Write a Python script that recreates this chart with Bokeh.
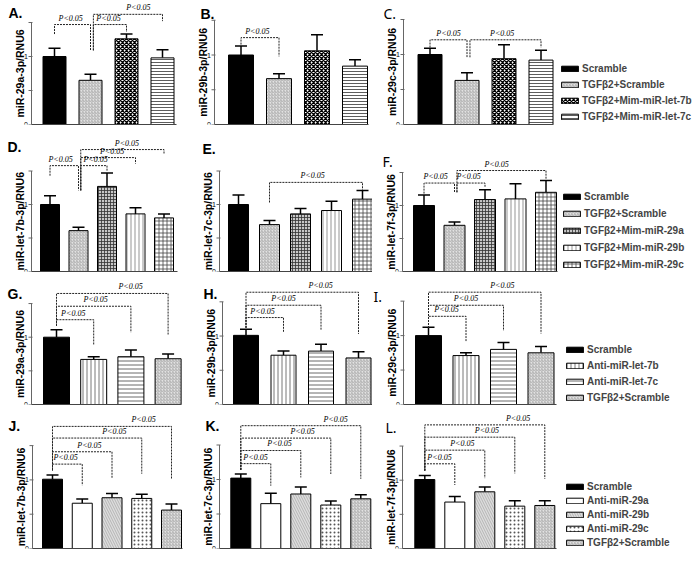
import math
from bokeh.plotting import figure
from bokeh.models import (FixedTicker, Whisker, TeeHead, ColumnDataSource,
                          Legend, LegendItem, Range1d)
from bokeh.layouts import row, column
from bokeh.core.properties import value
from bokeh.embed import file_html
from bokeh.resources import INLINE

# ---------------- data ----------------
groups_ABC = ["Scramble", "TGFβ2+Scramble", "TGFβ2+Mim-miR-let-7b", "TGFβ2+Mim-miR-let-7c"]
groups_DEF = ["Scramble", "TGFβ2+Scramble", "TGFβ2+Mim-miR-29a", "TGFβ2+Mim-miR-29b", "TGFβ2+Mim-miR-29c"]
groups_GHI = ["Scramble", "Anti-miR-let-7b", "Anti-miR-let-7c", "TGFβ2+Scramble"]
groups_JKL = ["Scramble", "Anti-miR-29a", "Anti-miR-29b", "Anti-miR-29c", "TGFβ2+Scramble"]

ylabels = ["miR-29a-3p/RNU6", "miR-29b-3p/RNU6", "miR-29c-3p/RNU6",
           "miR-let-7b-3p/RNU6", "miR-let-7c-3p/RNU6", "miR-let-7f-3p/RNU6",
           "miR-29a-3p/RNU6", "miR-29b-3p/RNU6", "miR-29c-3p/RNU6",
           "miR-let-7b-3p/RNU6", "miR-let-7c-3p/RNU6", "miR-let-7f-3p/RNU6"]
letters = ["A.", "B.", "C.", "D.", "E.", "F.", "G.", "H.", "I.", "J.", "K.", "L."]

y_major = [0, 1]
y_major_text = ["0", "1"]
y_minor = [0.5, 1.5]
p_text = "P<0.05"

vals_A = [1.00, 0.65, 1.26, 0.98]; sem_A = [0.12, 0.09, 0.07, 0.12]
vals_B = [1.00, 0.66, 1.06, 0.84]; sem_B = [0.13, 0.07, 0.23, 0.09]
vals_C = [1.00, 0.63, 0.94, 0.92]; sem_C = [0.09, 0.11, 0.20, 0.14]
vals_D = [1.00, 0.61, 1.27, 0.86, 0.80]; sem_D = [0.13, 0.05, 0.20, 0.09, 0.06]
vals_E = [1.00, 0.70, 0.86, 0.91, 1.08]; sem_E = [0.14, 0.06, 0.08, 0.14, 0.13]
vals_F = [1.00, 0.70, 1.09, 1.10, 1.20]; sem_F = [0.16, 0.05, 0.15, 0.23, 0.18]
vals_G = [1.00, 0.67, 0.71, 0.68]; sem_G = [0.11, 0.04, 0.10, 0.07]
vals_H = [1.01, 0.72, 0.78, 0.68]; sem_H = [0.09, 0.06, 0.10, 0.09]
vals_I = [1.00, 0.71, 0.80, 0.75]; sem_I = [0.12, 0.04, 0.10, 0.09]
vals_J = [1.01, 0.66, 0.74, 0.73, 0.56]; sem_J = [0.06, 0.06, 0.06, 0.06, 0.09]
vals_K = [1.02, 0.65, 0.79, 0.63, 0.72]; sem_K = [0.06, 0.15, 0.10, 0.06, 0.06]
vals_L = [1.01, 0.68, 0.83, 0.62, 0.63]; sem_L = [0.06, 0.08, 0.07, 0.08, 0.07]

# significance brackets: from bar, to bar, bracket height, leg ends, label x
brk_A_from = [1, 2, 2]; brk_A_to = [2, 3, 4]; brk_A_y = [1.47, 1.47, 1.62]
brk_A_lo1 = [1.33, 1.09, 1.09]; brk_A_lo2 = [1.09, 1.36, 1.52]; brk_A_lx = [1.45, 2.50, 3.33]
brk_B_from = [1]; brk_B_to = [2]; brk_B_y = [1.25]
brk_B_lo1 = [1.15]; brk_B_lo2 = [0.98]; brk_B_lx = [1.43]
brk_C_from = [1, 2]; brk_C_to = [2, 4]; brk_C_y = [1.21, 1.21]
brk_C_lo1 = [1.10, 0.96]; brk_C_lo2 = [0.96, 1.10]; brk_C_lx = [1.50, 2.95]
brk_D_from = [1, 2, 2, 2]; brk_D_to = [2, 3, 4, 5]; brk_D_y = [1.58, 1.58, 1.70, 1.82]
brk_D_lo1 = [1.43, 1.21, 1.21, 1.21]; brk_D_lo2 = [1.21, 1.50, 1.61, 1.76]; brk_D_lx = [1.37, 2.60, 3.18, 3.70]
brk_E_from = [2]; brk_E_to = [5]; brk_E_y = [1.33]
brk_E_lo1 = [1.03]; brk_E_lo2 = [1.22]; brk_E_lx = [3.39]
brk_F_from = [1, 2, 2]; brk_F_to = [2, 3, 5]; brk_F_y = [1.34, 1.34, 1.53]
brk_F_lo1 = [1.18, 1.20, 1.20]; brk_F_lo2 = [1.20, 1.28, 1.40]; brk_F_lx = [1.38, 2.46, 3.38]
brk_G_from = [1, 1, 1]; brk_G_to = [2, 3, 4]; brk_G_y = [1.26, 1.46, 1.65]
brk_G_lo1 = [1.17, 1.17, 1.17]; brk_G_lo2 = [0.88, 1.07, 1.04]; brk_G_lx = [1.45, 2.05, 2.99]
brk_H_from = [1, 1, 1]; brk_H_to = [2, 3, 4]; brk_H_y = [1.27, 1.45, 1.64]
brk_H_lo1 = [1.12, 1.12, 1.12]; brk_H_lo2 = [1.05, 1.09, 1.03]; brk_H_lx = [1.44, 2.00, 2.99]
brk_I_from = [1, 1, 1]; brk_I_to = [2, 3, 4]; brk_I_y = [1.28, 1.44, 1.63]
brk_I_lo1 = [1.11, 1.11, 1.11]; brk_I_lo2 = [0.92, 1.07, 1.03]; brk_I_lx = [1.48, 2.00, 2.97]
brk_J_from = [1, 1, 1, 1]; brk_J_to = [2, 3, 4, 5]; brk_J_y = [1.23, 1.41, 1.61, 1.78]
brk_J_lo1 = [1.14, 1.14, 1.14, 1.14]; brk_J_lo2 = [0.92, 1.02, 1.09, 1.02]; brk_J_lx = [1.44, 2.24, 3.08, 4.06]
brk_K_from = [1, 1, 1, 1]; brk_K_to = [2, 3, 4, 5]; brk_K_y = [1.23, 1.42, 1.60, 1.78]
brk_K_lo1 = [1.14, 1.14, 1.14, 1.14]; brk_K_lo2 = [0.91, 1.03, 1.08, 1.01]; brk_K_lx = [1.49, 2.29, 3.06, 4.16]
brk_L_from = [1, 1, 1, 1]; brk_L_to = [2, 3, 4, 5]; brk_L_y = [1.24, 1.44, 1.63, 1.81]
brk_L_lo1 = [1.14, 1.14, 1.14, 1.14]; brk_L_lo2 = [0.93, 1.03, 1.10, 1.02]; brk_L_lx = [1.49, 2.25, 3.07, 4.11]

# ---------------- styles ----------------
STYLES = {
    "Scramble": dict(fill_color="black"),
    "TGFβ2+Scramble": dict(fill_color="#e2e2e2", hatch_pattern="right_diagonal_line",
                           hatch_color="#8c8c8c", hatch_scale=3, hatch_weight=0.6),
    "TGFβ2+Mim-miR-let-7b": dict(fill_color="white", hatch_pattern="diagonal_cross",
                                 hatch_color="black", hatch_scale=4, hatch_weight=1.3),
    "TGFβ2+Mim-miR-let-7c": dict(fill_color="white", hatch_pattern="horizontal_line",
                                 hatch_color="#333333", hatch_scale=3, hatch_weight=0.8),
    "TGFβ2+Mim-miR-29a": dict(fill_color="#c8c8c8", hatch_pattern="cross",
                              hatch_color="#333333", hatch_scale=3, hatch_weight=0.8),
    "TGFβ2+Mim-miR-29b": dict(fill_color="white", hatch_pattern="vertical_line",
                              hatch_color="#666666", hatch_scale=4, hatch_weight=0.7),
    "TGFβ2+Mim-miR-29c": dict(fill_color="white", hatch_pattern="cross",
                              hatch_color="#444444", hatch_scale=4, hatch_weight=0.8),
    "Anti-miR-let-7b": dict(fill_color="white", hatch_pattern="vertical_line",
                            hatch_color="#555555", hatch_scale=4, hatch_weight=0.8),
    "Anti-miR-let-7c": dict(fill_color="white", hatch_pattern="horizontal_line",
                            hatch_color="#444444", hatch_scale=4, hatch_weight=0.8),
    "Anti-miR-29a": dict(fill_color="white"),
    "Anti-miR-29b": dict(fill_color="#dddddd", hatch_pattern="left_diagonal_line",
                         hatch_color="#999999", hatch_scale=5, hatch_weight=0.6),
    "Anti-miR-29c": dict(fill_color="white", hatch_pattern="dot",
                         hatch_color="#555555", hatch_scale=4, hatch_weight=1.0),
}

FONT = "Liberation Sans"
AXIS_COLOR = "#666666"

# ---------------- layout (page pixels) ----------------
ROWS = [(0, 134), (134, 278), (278, 414), (414, 560)]
# fig_x0, fig_x1, axis_x, axis_end, first bar centre, bar spacing, bar width,
# zero y, px per unit, letter x, letter y, letter font, letter weight
GEO = {
    "A": (0, 183, 31, 176, 54, 36, 23, 124, 68, 8, 4, FONT, "bold"),
    "B": (183, 372, 214, 368, 240.5, 38, 25, 124, 69.5, 200, 5, FONT, "bold"),
    "C": (372, 700, 403, 553, 429.5, 37, 24, 124, 70, 383, 3, "Noto Sans", "normal"),
    "D": (0, 188, 31, 177, 49.5, 28.5, 19, 271, 67, 7, 138, FONT, "bold"),
    "E": (188, 372, 219, 372, 238, 31, 20, 271, 67, 202, 140, FONT, "bold"),
    "F": (372, 700, 402, 557, 423.5, 30.5, 21, 271, 66, 382, 151, "Noto Sans", "normal"),
    "G": (0, 191, 31, 181, 56, 37.2, 26, 404, 67.3, 7, 285, FONT, "bold"),
    "H": (191, 372, 222, 372, 245.5, 37.5, 25, 405, 69, 203, 286, FONT, "bold"),
    "I": (372, 700, 403, 556, 428, 37.5, 26, 406, 70, 373, 287, "Noto Sans", "normal"),
    "J": (0, 188, 32, 182, 52, 29.75, 20, 548, 68.6, 8, 417, FONT, "bold"),
    "K": (188, 372, 219, 372, 240.3, 30, 20, 548, 69, 205, 417, FONT, "bold"),
    "L": (372, 700, 402, 556, 424.3, 30, 20, 548, 68.3, 385, 417, "Noto Sans", "normal"),
}
LEGEND_GEO = {"C": (559, 122, 4), "F": (561, 270, 5), "I": (564, 405, 4), "L": (564, 550, 2)}
YLABEL_GAP = 6   # px from y-axis line to the bottom edge of its rotated title
TICKLABEL_GAP = 3.5


def make_panel(key, idx, row_i, groups, vals, sems, bf, bt, by, blo1, blo2, blx, legend=False):
    x0, x1, ax, ae, c1, s, bw, zero, unit, lx, ly, lfont, lstyle = GEO[key]
    top, bottom = ROWS[row_i]
    px2x = lambda px: 1 + (px - c1) / s
    px2y = lambda py: (zero - py) / unit
    p = figure(width=int(x1 - x0), height=int(bottom - top), output_backend="svg",
               toolbar_location=None, tools="",
               x_range=Range1d(px2x(x0), px2x(x1)),
               y_range=Range1d(0, px2y(top)),
               min_border_left=0, min_border_right=0,
               min_border_top=0, min_border_bottom=int(bottom - zero))
    p.outline_line_color = None
    p.xgrid.visible = False
    p.ygrid.visible = False
    p.background_fill_color = "white"
    p.border_fill_color = "white"
    p.yaxis.visible = False

    # x axis: plain baseline under the bars
    p.xaxis.ticker = FixedTicker(ticks=[])
    p.xaxis.major_label_text_font_size = "0px"
    p.xaxis.major_label_standoff = 0
    p.xaxis.major_tick_out = 0
    p.xaxis.minor_tick_out = 0
    p.xaxis.bounds = (px2x(ax), px2x(ae))
    p.xaxis.axis_line_color = "#444444"

    # y axis: line, ticks and labels at the value scale
    axx = px2x(ax)
    all_ticks = y_major + y_minor
    p.segment(x0=[axx], y0=[min(all_ticks)], x1=[axx], y1=[max(all_ticks)],
              line_color=AXIS_COLOR, line_width=1)
    p.segment(x0=[axx - 3 / s] * len(all_ticks), y0=all_ticks,
              x1=[axx + 1 / s] * len(all_ticks), y1=all_ticks,
              line_color=AXIS_COLOR, line_width=1)
    p.text(x=[axx - TICKLABEL_GAP / s] * len(y_major), y=y_major, text=y_major_text,
           text_font=value(FONT), text_font_size="7px", text_align="right",
           text_baseline="middle", text_color="black")

    # rotated y title
    p.text(x=[px2x(ax - YLABEL_GAP)], y=[0.75], text=[ylabels[idx]], angle=math.pi / 2,
           text_font=value(FONT), text_font_style="bold", text_font_size="10.5px",
           text_align="center", text_baseline="bottom", text_color="black")

    # bars
    renderers = []
    for i, g in enumerate(groups):
        r = p.vbar(x=[i + 1], top=[vals[i]], bottom=0, width=bw / s,
                   line_color="black", line_width=1, **STYLES[g])
        renderers.append(r)

    # error bars (upper only)
    src = ColumnDataSource(dict(x=[i + 1 for i in range(len(vals))],
                                lo=list(vals),
                                hi=[v + e for v, e in zip(vals, sems)]))
    p.add_layout(Whisker(source=src, base="x", lower="lo", upper="hi",
                         line_width=1.5, line_color="black",
                         upper_head=TeeHead(size=12, line_width=1.5, line_color="black"),
                         lower_head=None))

    # brackets
    tos = set(bt)
    xs, ys = [], []
    for a, b, yy, l1, l2 in zip(bf, bt, by, blo1, blo2):
        xa = a + (0.08 if a in tos else 0.0)
        xs.append([xa, xa, b, b])
        ys.append([l1, yy, yy, l2])
    p.multi_line(xs, ys, line_color="#222222", line_width=1, line_dash="2 1")
    p.text(x=blx, y=[yy + 0.03 for yy in by], text=[p_text] * len(by),
           text_font=value("Liberation Serif"), text_font_style="italic",
           text_font_size="8px", text_align="center", text_baseline="bottom",
           text_color="black")

    # panel letter
    p.text(x=[px2x(lx)], y=[px2y(ly)], text=[letters[idx]],
           text_font=value(lfont), text_font_style=lstyle, text_font_size="14px",
           text_align="left", text_baseline="top", text_color="black")

    if legend:
        gx, gb, sp = LEGEND_GEO[key]
        lg = Legend(items=[LegendItem(label=g, renderers=[r]) for g, r in zip(groups, renderers)],
                    location=(int(gx - x0), int(max(zero - gb, 0))), glyph_width=21, glyph_height=7,
                    label_height=12, spacing=sp, padding=0, margin=0, label_standoff=2,
                    label_text_font=FONT, label_text_font_style="bold",
                    label_text_font_size="10px", border_line_color=None,
                    background_fill_alpha=0)
        p.add_layout(lg, "center")
    return p


pA = make_panel("A", 0, 0, groups_ABC, vals_A, sem_A, brk_A_from, brk_A_to, brk_A_y, brk_A_lo1, brk_A_lo2, brk_A_lx)
pB = make_panel("B", 1, 0, groups_ABC, vals_B, sem_B, brk_B_from, brk_B_to, brk_B_y, brk_B_lo1, brk_B_lo2, brk_B_lx)
pC = make_panel("C", 2, 0, groups_ABC, vals_C, sem_C, brk_C_from, brk_C_to, brk_C_y, brk_C_lo1, brk_C_lo2, brk_C_lx, legend=True)
pD = make_panel("D", 3, 1, groups_DEF, vals_D, sem_D, brk_D_from, brk_D_to, brk_D_y, brk_D_lo1, brk_D_lo2, brk_D_lx)
pE = make_panel("E", 4, 1, groups_DEF, vals_E, sem_E, brk_E_from, brk_E_to, brk_E_y, brk_E_lo1, brk_E_lo2, brk_E_lx)
pF = make_panel("F", 5, 1, groups_DEF, vals_F, sem_F, brk_F_from, brk_F_to, brk_F_y, brk_F_lo1, brk_F_lo2, brk_F_lx, legend=True)
pG = make_panel("G", 6, 2, groups_GHI, vals_G, sem_G, brk_G_from, brk_G_to, brk_G_y, brk_G_lo1, brk_G_lo2, brk_G_lx)
pH = make_panel("H", 7, 2, groups_GHI, vals_H, sem_H, brk_H_from, brk_H_to, brk_H_y, brk_H_lo1, brk_H_lo2, brk_H_lx)
pI = make_panel("I", 8, 2, groups_GHI, vals_I, sem_I, brk_I_from, brk_I_to, brk_I_y, brk_I_lo1, brk_I_lo2, brk_I_lx, legend=True)
pJ = make_panel("J", 9, 3, groups_JKL, vals_J, sem_J, brk_J_from, brk_J_to, brk_J_y, brk_J_lo1, brk_J_lo2, brk_J_lx)
pK = make_panel("K", 10, 3, groups_JKL, vals_K, sem_K, brk_K_from, brk_K_to, brk_K_y, brk_K_lo1, brk_K_lo2, brk_K_lx)
pL = make_panel("L", 11, 3, groups_JKL, vals_L, sem_L, brk_L_from, brk_L_to, brk_L_y, brk_L_lo1, brk_L_lo2, brk_L_lx, legend=True)

layout = column(row(pA, pB, pC), row(pD, pE, pF), row(pG, pH, pI), row(pJ, pK, pL))
open("out.html", "w").write(file_html(layout, INLINE))
